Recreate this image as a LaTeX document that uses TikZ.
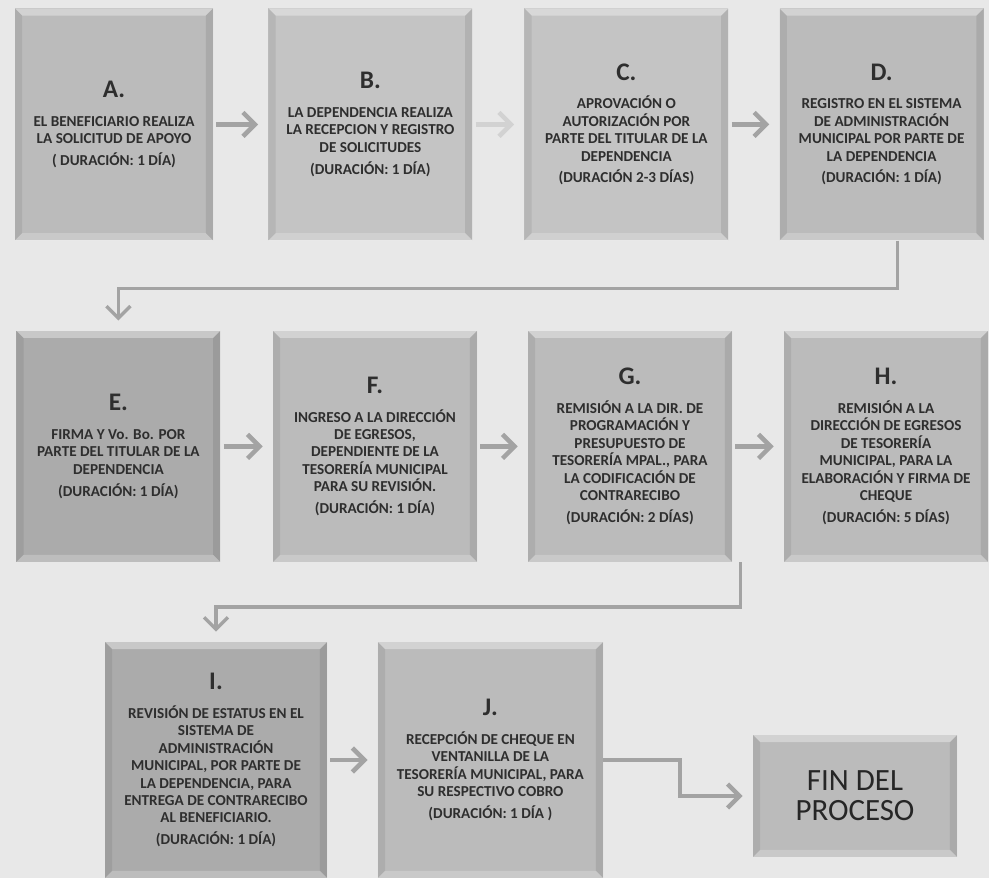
\documentclass[tikz,border=0pt]{standalone}
\usepackage{fontspec}
\setmainfont{Carlito}
\usepackage{xcolor}
\definecolor{fondo}{HTML}{E8E8E8}
\definecolor{caja}{HTML}{BBBBBB}
\definecolor{cajaClara}{HTML}{C4C4C4}
\definecolor{cajaOscura}{HTML}{ABABAB}
\definecolor{texto}{HTML}{2E2E2E}
\definecolor{linea}{HTML}{A3A3A3}
\definecolor{lineaClara}{HTML}{D2D2D2}
\usepackage{tikz}
\usetikzlibrary{arrows.meta,positioning,calc}
\newcommand{\cajabb}{path picture bounding box}
\newcommand{\letra}[1]{{\fontsize{18}{19}\selectfont #1}}
\tikzset{
    paso/.style={
        fill=caja,
        rectangle,
        align=center,
        minimum width=5.1cm,
        minimum height=5.8cm,
        inner sep=2pt,
        text=texto,
        font=\bfseries\fontsize{10.8}{12.4}\selectfont,
        path picture={
            \fill[white,opacity=0.35] (\cajabb.north west) -- (\cajabb.north east)
                -- ([shift={(-0.18,-0.18)}]\cajabb.north east) -- ([shift={(0.18,-0.18)}]\cajabb.north west) -- cycle;
            \fill[black,opacity=0.07] (\cajabb.north west) -- ([shift={(0.18,-0.18)}]\cajabb.north west)
                -- ([shift={(0.18,0.18)}]\cajabb.south west) -- (\cajabb.south west) -- cycle;
            \fill[black,opacity=0.09] (\cajabb.north east) -- ([shift={(-0.18,-0.18)}]\cajabb.north east)
                -- ([shift={(-0.18,0.18)}]\cajabb.south east) -- (\cajabb.south east) -- cycle;
            \fill[white,opacity=0.22] (\cajabb.south west) -- ([shift={(0.18,0.18)}]\cajabb.south west)
                -- ([shift={(-0.18,0.18)}]\cajabb.south east) -- (\cajabb.south east) -- cycle;
        }
    },
    fin/.style={
        paso,
        minimum width=5.1cm,
        minimum height=3.05cm,
        font=\fontsize{22}{21.5}\selectfont,
        text=black!85
    },
    flecha/.style={
        -{Straight Barb[length=3mm,width=6mm]},
        line width=3.2pt,
        color=linea,
        shorten >=0.25cm,
        shorten <=0.08cm
    },
    conector/.style={
        -{Straight Barb[length=3mm,width=6mm]},
        line width=2.4pt,
        color=linea,
        shorten >=0.25cm
    }
}
\begin{document}
\begin{tikzpicture}
    % fondo
    \fill[fondo] (0,0) rectangle (24.725,-21.95);
    \useasboundingbox (0,0) rectangle (24.725,-21.95);

    % Fila 1
    \node[paso, minimum width=4.95cm] (a) at (2.85,-3.11) {\letra{A.}\\[8pt]
        EL BENEFICIARIO REALIZA\\ LA SOLICITUD DE APOYO\\[3pt] ( DURACIÓN: 1 DÍA)};
    \node[paso, fill=cajaClara] (b) at (9.26,-3.11) {\letra{B.}\\[8pt]
        LA DEPENDENCIA REALIZA\\ LA RECEPCION Y REGISTRO\\ DE SOLICITUDES\\[3pt] (DURACIÓN: 1 DÍA)};
    \node[paso, fill=cajaClara] (c) at (15.66,-3.11) {\letra{C.}\\[8pt]
        APROVACIÓN O\\ AUTORIZACIÓN POR\\ PARTE DEL TITULAR DE LA\\ DEPENDENCIA\\[3pt] (DURACIÓN 2-3 DÍAS)};
    \node[paso] (d) at (22.04,-3.11) {\letra{D.}\\[8pt]
        REGISTRO EN EL SISTEMA\\ DE ADMINISTRACIÓN\\ MUNICIPAL POR PARTE DE\\ LA DEPENDENCIA\\[3pt] (DURACIÓN: 1 DÍA)};

    % Fila 2
    \node[paso, fill=cajaOscura, minimum height=5.78cm] (e) at (2.96,-11.16) {\letra{E.}\\[8pt]
        FIRMA Y Vo. Bo. POR\\ PARTE DEL TITULAR DE LA\\ DEPENDENCIA\\[3pt] (DURACIÓN: 1 DÍA)};
    \node[paso, minimum height=5.78cm] (f) at (9.375,-11.16) {\letra{F.}\\[8pt]
        INGRESO A LA DIRECCIÓN\\ DE EGRESOS,\\ DEPENDIENTE DE LA\\ TESORERÍA MUNICIPAL\\ PARA SU REVISIÓN.\\[3pt] (DURACIÓN: 1 DÍA)};
    \node[paso, minimum height=5.78cm] (g) at (15.75,-11.16) {\letra{G.}\\[8pt]
        REMISIÓN A LA DIR. DE\\ PROGRAMACIÓN Y\\ PRESUPUESTO DE\\ TESORERÍA MPAL., PARA\\ LA CODIFICACIÓN DE\\ CONTRARECIBO\\[3pt] (DURACIÓN: 2 DÍAS)};
    \node[paso, minimum height=5.78cm] (h) at (22.15,-11.16) {\letra{H.}\\[8pt]
        REMISIÓN A LA\\ DIRECCIÓN DE EGRESOS\\ DE TESORERÍA\\ MUNICIPAL, PARA LA\\ ELABORACIÓN Y FIRMA DE\\ CHEQUE\\[3pt] (DURACIÓN: 5 DÍAS)};

    % Fila 3
    \node[paso, fill=cajaOscura, minimum width=5.55cm, minimum height=5.9cm] (i) at (5.4,-19.0) {\letra{I.}\\[8pt]
        REVISIÓN DE ESTATUS EN EL\\ SISTEMA DE\\ ADMINISTRACIÓN\\ MUNICIPAL, POR PARTE DE\\ LA DEPENDENCIA, PARA\\ ENTREGA DE CONTRARECIBO\\ AL BENEFICIARIO.\\[3pt] (DURACIÓN: 1 DÍA)};
    \node[paso, minimum width=5.63cm, minimum height=5.9cm] (j) at (12.26,-19.0) {\letra{J.}\\[8pt]
        RECEPCIÓN DE CHEQUE EN\\ VENTANILLA DE LA\\ TESORERÍA MUNICIPAL, PARA\\ SU RESPECTIVO COBRO\\[3pt] (DURACIÓN: 1 DÍA )};
    \node[fin] (final) at (21.375,-19.9) {FIN DEL\\ PROCESO};

    % flechas
    \draw[flecha] (a) -- (b);
    \draw[flecha, color=lineaClara] (b) -- (c);
    \draw[flecha] (c) -- (d);
    \draw[conector] ([xshift=0.4cm]d.south) -- ++(0,-1.2) -| (e.north);
    \draw[flecha] (e) -- (f);
    \draw[flecha] (f) -- (g);
    \draw[flecha] (g) -- (h);
    \draw[conector] ([xshift=0.2cm]g.south east) -- ++(0,-1.12) -| (i.north);
    \draw[flecha] (i) -- (j);
    \draw[flecha, shorten <=0pt] (j.east) -- ++(1.92,0) |- (final.west);
\end{tikzpicture}
\end{document}
